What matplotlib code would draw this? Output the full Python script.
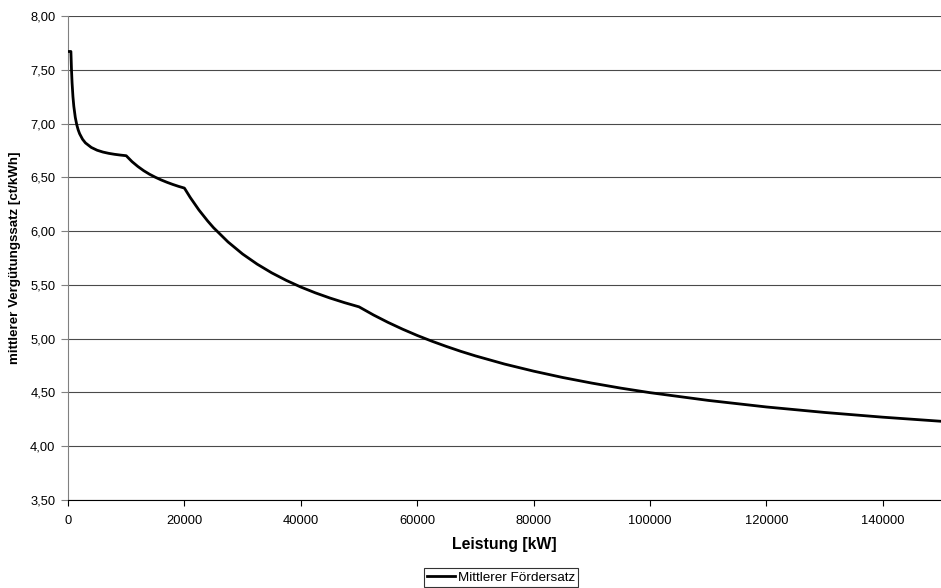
import matplotlib
matplotlib.use('Agg')
import matplotlib.pyplot as plt
from matplotlib.ticker import FuncFormatter

plt.rcParams['font.family'] = ['Liberation Sans', 'DejaVu Sans']

# Leistung [kW] und mittlerer Vergütungssatz [ct/kWh]
leistung = [0, 500, 600, 700, 850, 1000, 1250, 1500, 1750, 2000, 2500, 3000, 4000,
            5000, 6000, 7000, 8000, 9000, 10000, 11000, 12000, 13000, 14000,
            15000, 16000, 17000, 18000, 19000, 20000, 21000, 22500, 24000,
            25000, 27500, 30000, 32500, 35000, 37500, 40000, 42500, 45000,
            47500, 50000, 52500, 55000, 57500, 60000, 62500, 65000, 67500,
            70000, 75000, 80000, 85000, 90000, 95000, 100000, 110000, 120000,
            130000, 140000, 150000]
verguetung = [7.67, 7.67, 7.50, 7.379, 7.25, 7.16, 7.058, 6.99, 6.941, 6.905, 6.854, 6.82, 6.778,
              6.752, 6.735, 6.723, 6.714, 6.707, 6.701, 6.646, 6.601, 6.562, 6.529,
              6.501, 6.476, 6.454, 6.434, 6.416, 6.400, 6.313, 6.196, 6.094,
              6.032, 5.899, 5.787, 5.693, 5.612, 5.542, 5.480, 5.426, 5.378,
              5.335, 5.296, 5.220, 5.151, 5.088, 5.030, 4.977, 4.928, 4.882,
              4.840, 4.764, 4.698, 4.639, 4.587, 4.540, 4.498, 4.426, 4.365,
              4.314, 4.270, 4.232]

y_ticks = [3.5, 4.0, 4.5, 5.0, 5.5, 6.0, 6.5, 7.0, 7.5, 8.0]
x_ticks = [0, 20000, 40000, 60000, 80000, 100000, 120000, 140000]

fig = plt.figure(figsize=(9.41, 5.88), dpi=100)
ax = fig.add_axes([68 / 941, 1 - 500 / 588, 1 - 68 / 941, (500 - 16) / 588])

line, = ax.plot(leistung, verguetung, color='black', linewidth=2.0,
                label='Mittlerer Fördersatz', zorder=3)

ax.set_xlim(0, 150000)
ax.set_ylim(3.5, 8.0)
ax.set_yticks(y_ticks)
ax.set_xticks(x_ticks)
ax.yaxis.set_major_formatter(FuncFormatter(lambda v, p: ('%.2f' % v).replace('.', ',')))
ax.xaxis.set_major_formatter(FuncFormatter(lambda v, p: '%d' % v))

# horizontale Gitterlinien
ax.grid(axis='y', color='#4a4a4a', linewidth=0.8)
ax.set_axisbelow(True)

ax.spines['top'].set_visible(False)
ax.spines['right'].set_visible(False)
ax.spines['left'].set_color('#808080')
ax.spines['bottom'].set_color('black')
ax.tick_params(axis='y', labelsize=9.3, length=5, width=0.8, colors='#808080',
               labelcolor='black', pad=4)
ax.tick_params(axis='x', labelsize=9.3, length=4, width=0.8, colors='black',
               labelcolor='black', pad=7)

ax.set_xlabel('Leistung [kW]', fontsize=11.4, fontweight='bold', va='center')
ax.xaxis.set_label_coords(0.5, -45 / 484)
ax.set_ylabel('mittlerer Vergütungssatz [ct/kWh]', fontsize=9.6, fontweight='bold', va='center')
ax.yaxis.set_label_coords(-53 / 873, 0.5)

leg = fig.legend(handles=[line], loc='center', bbox_to_anchor=(501 / 941, 1 - 577.5 / 588),
                 fontsize=9.7, frameon=True, fancybox=False, handlelength=2.1,
                 handletextpad=0.22, borderpad=0.21, borderaxespad=0)
leg.get_frame().set_edgecolor('black')
leg.get_frame().set_linewidth(0.8)

fig.savefig('out.png', dpi=100)
